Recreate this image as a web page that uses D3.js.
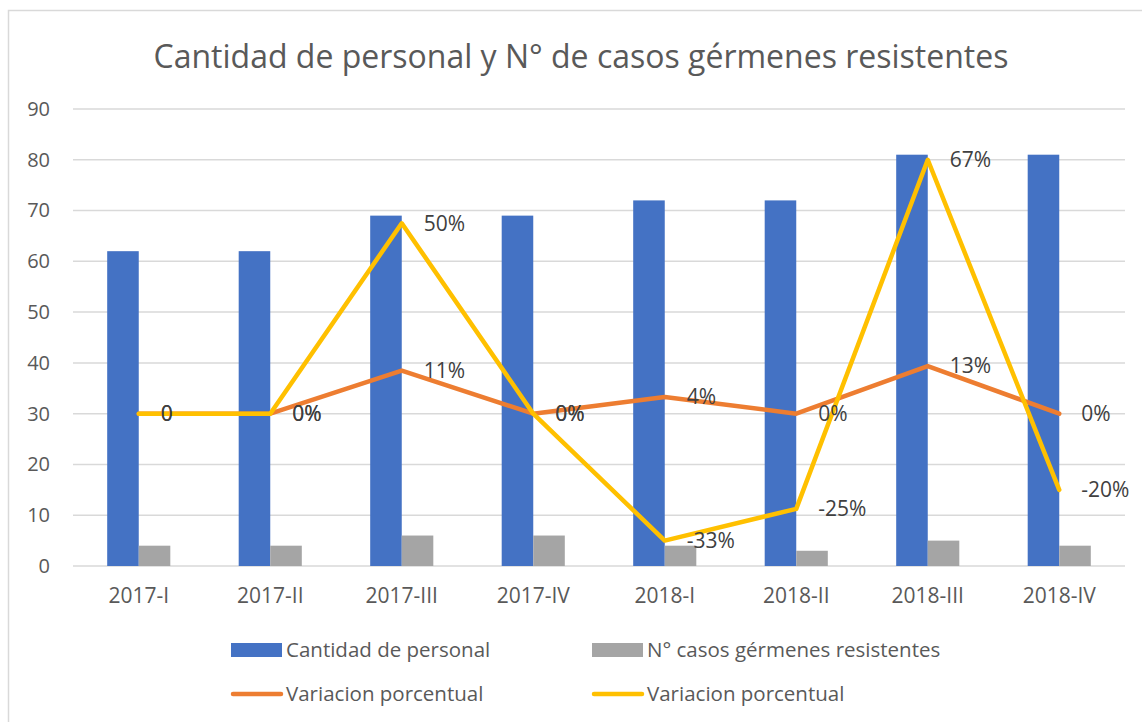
<!DOCTYPE html>
<html>
<head>
<meta charset="utf-8">
<script src="https://cdn.jsdelivr.net/npm/d3@7/dist/d3.min.js"></script>
<style>
  body { margin: 0; background: #fff; }
  text { font-family: "Open Sans", "Noto Sans", sans-serif; }
</style>
</head>
<body>
<div id="chart"></div>
<script>
/* global d3 */
var categories = ["2017-I", "2017-II", "2017-III", "2017-IV", "2018-I", "2018-II", "2018-III", "2018-IV"];
var personal = [62, 62, 69, 69, 72, 72, 81, 81];
var casos = [4, 4, 6, 6, 4, 3, 5, 4];
var varPersonal = [0, 0, 0.1129, 0, 0.0435, 0, 0.125, 0];
var varCasos = [0, 0, 0.5, 0, -0.3333, -0.25, 0.6667, -0.2];
var yTicks = [0, 10, 20, 30, 40, 50, 60, 70, 80, 90];

var width = 1142, height = 722;
var margin = {left: 73, right: 17, top: 109, bottom: 156};

var pct = d3.formatLocale({decimal: ".", thousands: ",", grouping: [3], currency: ["", ""], minus: "-"}).format(".0%");

var svg = d3.select("#chart").append("svg")
        .attr("width", width)
        .attr("height", height);

// chart frame (cut off at right and bottom in the original)
svg.append("rect")
        .attr("x", 8.5).attr("y", 10.5)
        .attr("width", width + 20).attr("height", height + 20)
        .attr("fill", "none")
        .attr("stroke", "#d9d9d9")
        .attr("stroke-width", 1.5);

var x = d3.scaleBand()
        .domain(categories)
        .range([margin.left, width - margin.right])
        .paddingInner(0.52)
        .paddingOuter(0.26);

var inner = d3.scaleBand()
        .domain(["personal", "casos"])
        .range([0, x.bandwidth()]);

var y = d3.scaleLinear()
        .domain([0, 90])
        .range([height - margin.bottom, margin.top]);

// hidden secondary axis for the two percentage lines
var y2 = d3.scaleLinear()
        .domain([-0.4, 0.8])
        .range([height - margin.bottom, margin.top]);

// gridlines
svg.append("g")
        .selectAll("line")
        .data(yTicks)
        .enter()
        .append("line")
        .attr("x1", margin.left)
        .attr("x2", width - margin.right)
        .attr("y1", function (d) { return y(d); })
        .attr("y2", function (d) { return y(d); })
        .attr("stroke", "#d9d9d9")
        .attr("stroke-width", 1.5);

var yAxis = svg.append("g")
        .attr("transform", "translate(" + margin.left + ",0)")
        .call(d3.axisLeft(y).tickValues(yTicks).tickSize(0).tickPadding(23));
yAxis.select(".domain").remove();
yAxis.selectAll("text")
        .attr("fill", "#595959")
        .style("font-size", "20px");

var xAxis = svg.append("g")
        .attr("transform", "translate(0," + y(0) + ")")
        .call(d3.axisBottom(x).tickSize(0).tickPadding(22));
xAxis.select(".domain").remove();
xAxis.selectAll("text")
        .attr("fill", "#595959")
        .style("font-size", "21px");

// bars
var groups = svg.append("g")
        .selectAll("g")
        .data(categories)
        .enter()
        .append("g")
        .attr("transform", function (d) { return "translate(" + x(d) + ",0)"; });

groups.append("rect")
        .attr("x", inner("personal"))
        .attr("width", inner.bandwidth())
        .attr("y", function (d, i) { return y(personal[i]); })
        .attr("height", function (d, i) { return y(0) - y(personal[i]); })
        .attr("fill", "#4472c4");

groups.append("rect")
        .attr("x", inner("casos"))
        .attr("width", inner.bandwidth())
        .attr("y", function (d, i) { return y(casos[i]); })
        .attr("height", function (d, i) { return y(0) - y(casos[i]); })
        .attr("fill", "#a5a5a5");

var cx = function (i) { return x(categories[i]) + x.bandwidth() / 2; };

var line = d3.line()
        .x(function (d, i) { return cx(i); })
        .y(function (d) { return y2(d); });

function drawSeries(values, color) {
    svg.append("path")
            .datum(values)
            .attr("d", line)
            .attr("fill", "none")
            .attr("stroke", color)
            .attr("stroke-width", 4.5)
            .attr("stroke-linejoin", "round")
            .attr("stroke-linecap", "round");
}
drawSeries(varPersonal, "#ed7d31");
drawSeries(varCasos, "#ffc000");

function drawLabels(values) {
    svg.append("g")
            .selectAll("text")
            .data(values)
            .enter()
            .append("text")
            .attr("x", function (d, i) { return cx(i) + 22; })
            .attr("y", function (d) { return y2(d); })
            .attr("dy", "0.35em")
            .attr("fill", "#404040")
            .style("font-size", "21px")
            .text(function (d, i) {
                return i === 0 ? "0" : pct(d);
            });
}
drawLabels(varPersonal);
drawLabels(varCasos);

// title
svg.append("text")
        .attr("x", 581)
        .attr("y", 68)
        .attr("text-anchor", "middle")
        .attr("fill", "#595959")
        .style("font-size", "32px")
        .text("Cantidad de personal y N° de casos gérmenes resistentes");

// legend
var legendItems = [
    {label: "Cantidad de personal", color: "#4472c4", type: "rect", x: 231, y: 650},
    {label: "N° casos gérmenes resistentes", color: "#a5a5a5", type: "rect", x: 592, y: 650},
    {label: "Variacion porcentual", color: "#ed7d31", type: "line", x: 231, y: 694},
    {label: "Variacion porcentual", color: "#ffc000", type: "line", x: 592, y: 694}
];

var legend = svg.append("g")
        .selectAll("g")
        .data(legendItems)
        .enter()
        .append("g")
        .attr("transform", function (d) { return "translate(" + d.x + "," + d.y + ")"; });

legend.filter(function (d) { return d.type === "rect"; })
        .append("rect")
        .attr("x", 0).attr("y", -7)
        .attr("width", 51).attr("height", 14)
        .attr("fill", function (d) { return d.color; });

legend.filter(function (d) { return d.type === "line"; })
        .append("line")
        .attr("x1", 2).attr("x2", 50)
        .attr("y1", 0).attr("y2", 0)
        .attr("stroke", function (d) { return d.color; })
        .attr("stroke-width", 4.5)
        .attr("stroke-linecap", "round");

legend.append("text")
        .attr("x", 55)
        .attr("dy", "0.35em")
        .attr("fill", "#595959")
        .style("font-size", "20.5px")
        .text(function (d) { return d.label; });
</script>
</body>
</html>
